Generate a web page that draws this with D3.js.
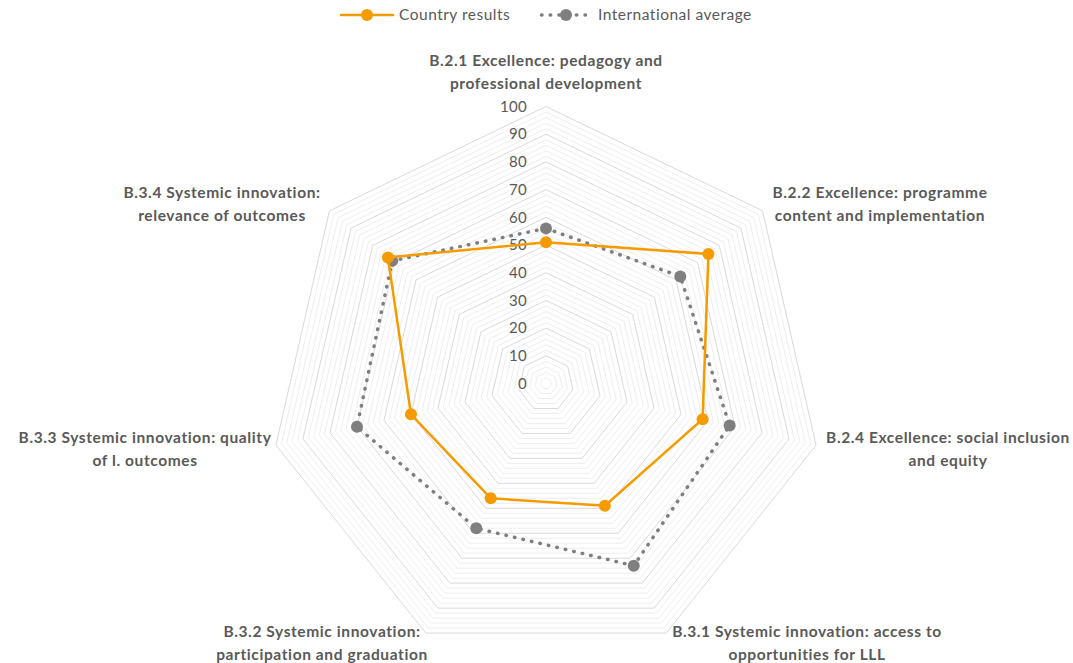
<!DOCTYPE html>
<html>
<head>
<meta charset="utf-8">
<script src="https://cdn.jsdelivr.net/npm/d3@7"></script>
<style>
    body { margin: 0; background: #fff; }
    #chart-radar { width: 1073px; height: 663px; }
    text { font-family: Lato, "Open Sans", sans-serif; fill: #595959; }
</style>
</head>
<body>
<div id="chart-radar"></div>
<script>
//Datos
let categories = [
    ['B.2.1 Excellence: pedagogy and', 'professional development'],
    ['B.2.2 Excellence: programme', 'content and implementation'],
    ['B.2.4 Excellence: social inclusion', 'and equity'],
    ['B.3.1 Systemic innovation: access to', 'opportunities for LLL'],
    ['B.3.2 Systemic innovation:', 'participation and graduation'],
    ['B.3.3 Systemic innovation: quality', 'of l. outcomes'],
    ['B.3.4 Systemic innovation:', 'relevance of outcomes']
];
let countryResults = [51, 75, 58, 49, 46, 50, 73];
let internationalAverage = [56, 62, 68, 73, 58, 70, 71];
let tickValues = [0, 10, 20, 30, 40, 50, 60, 70, 80, 90, 100];

//Colores
let orange_color = '#F59B00';
let grey_color = '#7F7F7F';

//Bloque
let chartBlock = d3.select('#chart-radar');
let width = 1073, height = 663;
let cx = 546, cy = 383.5, radius = 277;

let svg = chartBlock.append('svg')
    .attr('width', width)
    .attr('height', height);

let chart = svg.append('g').attr('transform', `translate(${cx},${cy})`);

let r = d3.scaleLinear().domain([0, 100]).range([0, radius]);
let n = categories.length;
let angle = function(i) { return -Math.PI / 2 + i * 2 * Math.PI / n; };
let point = function(v, i) { return [r(v) * Math.cos(angle(i)), r(v) * Math.sin(angle(i))]; };

//Rejilla (menor cada 2, mayor cada 10)
let gridValues = d3.range(2, 101, 2);
chart.selectAll('.grid')
    .data(gridValues)
    .enter()
    .append('polygon')
    .attr('class', 'grid')
    .attr('points', function(v) { return d3.range(n).map(function(i) { return point(v, i).join(','); }).join(' '); })
    .style('fill', 'none')
    .style('stroke', function(v) { return v % 10 == 0 ? '#D9D9D9' : '#EEEEEE'; })
    .style('stroke-width', 1);

//Etiquetas del eje
chart.selectAll('.tick-label')
    .data(tickValues)
    .enter()
    .append('text')
    .attr('class', 'tick-label')
    .attr('x', -19)
    .attr('y', function(d) { return -r(d); })
    .attr('dy', '0.35em')
    .attr('text-anchor', 'end')
    .style('font-size', '15px')
    .style('letter-spacing', '0.3px')
    .text(function(d) { return d; });

//Etiquetas de categoría
let labelPos = [
    [0, -318, 'middle'],
    [334, -186, 'middle'],
    [402, 59, 'middle'],
    [261, 253, 'middle'],
    [-224, 253, 'middle'],
    [-401, 59, 'middle'],
    [-324, -186, 'middle']
];
categories.forEach(function(lines, i) {
    let t = chart.append('text')
        .attr('x', labelPos[i][0])
        .attr('y', labelPos[i][1])
        .attr('text-anchor', labelPos[i][2])
        .style('font-size', '15.5px')
        .style('letter-spacing', '0.6px')
        .style('font-weight', 'bold');
    lines.forEach(function(l, j) {
        t.append('tspan').attr('x', labelPos[i][0]).attr('dy', j == 0 ? 0 : 23).text(l);
    });
});

//Series
let line = d3.line().curve(d3.curveLinearClosed);

function drawSeries(values, color, dotted) {
    let pts = values.map(function(v, i) { return point(v, i); });
    chart.append('path')
        .attr('d', line(pts))
        .style('fill', 'none')
        .style('stroke', color)
        .style('stroke-width', dotted ? 3.5 : 2.5)
        .style('stroke-linecap', 'round')
        .style('stroke-dasharray', dotted ? '0.5 8.2' : null);
    chart.selectAll(null)
        .data(pts)
        .enter()
        .append('circle')
        .attr('cx', function(d) { return d[0]; })
        .attr('cy', function(d) { return d[1]; })
        .attr('r', 6)
        .style('fill', color);
}

drawSeries(internationalAverage, grey_color, true);
drawSeries(countryResults, orange_color, false);

//Leyenda
let legend = svg.append('g');
let legendItems = [
    {name: 'Country results', color: orange_color, dotted: false, x: 341},
    {name: 'International average', color: grey_color, dotted: true, x: 540}
];
legendItems.forEach(function(item) {
    let g = legend.append('g').attr('transform', `translate(${item.x},15)`);
    g.append('line')
        .attr('x1', 0).attr('x2', 52)
        .style('stroke', item.color)
        .style('stroke-width', item.dotted ? 3.5 : 2.5)
        .style('stroke-linecap', 'round')
        .style('stroke-dasharray', item.dotted ? '0.5 8.2' : null)
        .attr('transform', item.dotted ? 'translate(1.5,0)' : null);
    g.append('circle').attr('cx', 26).attr('r', 6).style('fill', item.color);
    g.append('text')
        .attr('x', 58)
        .attr('dy', '0.35em')
        .style('font-size', '15.5px')
        .style('letter-spacing', '0.5px')
        .text(item.name);
});
</script>
</body>
</html>
